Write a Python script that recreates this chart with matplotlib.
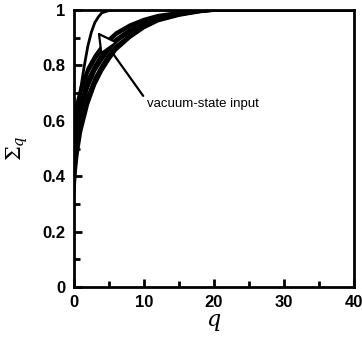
import matplotlib
matplotlib.use('Agg')
import matplotlib.pyplot as plt
import matplotlib.transforms as mtransforms
from matplotlib.ticker import MultipleLocator

plt.rcParams['font.family'] = ['Liberation Sans', 'DejaVu Sans']
plt.rcParams['mathtext.fontset'] = 'dejavuserif'

# vacuum-state input curve (steep one)
q_vac = [0, 0.25, 0.5, 1, 1.5, 2, 2.5, 3, 3.5, 4, 5, 6, 40]
s_vac = [0.45, 0.55, 0.62, 0.72, 0.80, 0.87, 0.92, 0.955, 0.975, 0.99, 0.998, 1.0, 1.0]

# bundle of other inputs
q_b = [0, 0.25, 0.5, 1, 2, 3, 4, 5, 6, 8, 10, 12, 15, 18, 20, 25, 40]
s_b = [
    [0.33, 0.42, 0.48, 0.56, 0.66, 0.73, 0.78, 0.82, 0.855, 0.90, 0.935, 0.96, 0.98, 0.993, 0.998, 1.0, 1.0],
    [0.36, 0.44, 0.50, 0.58, 0.675, 0.745, 0.79, 0.83, 0.862, 0.905, 0.938, 0.962, 0.982, 0.994, 0.999, 1.0, 1.0],
    [0.38, 0.46, 0.52, 0.60, 0.69, 0.755, 0.80, 0.84, 0.87, 0.91, 0.94, 0.965, 0.983, 0.995, 0.999, 1.0, 1.0],
    [0.43, 0.50, 0.56, 0.63, 0.72, 0.78, 0.82, 0.855, 0.885, 0.92, 0.948, 0.97, 0.986, 0.996, 0.999, 1.0, 1.0],
    [0.46, 0.53, 0.58, 0.65, 0.735, 0.79, 0.83, 0.862, 0.89, 0.925, 0.952, 0.972, 0.987, 0.996, 1.0, 1.0, 1.0],
    [0.48, 0.55, 0.60, 0.67, 0.75, 0.80, 0.84, 0.87, 0.895, 0.93, 0.955, 0.973, 0.988, 0.997, 1.0, 1.0, 1.0],
    [0.54, 0.60, 0.64, 0.70, 0.775, 0.82, 0.855, 0.885, 0.91, 0.94, 0.962, 0.978, 0.99, 0.998, 1.0, 1.0, 1.0],
    [0.60, 0.64, 0.67, 0.72, 0.79, 0.835, 0.87, 0.895, 0.918, 0.947, 0.967, 0.981, 0.992, 0.998, 1.0, 1.0, 1.0],
]

fig = plt.figure(figsize=(3.62, 3.45), dpi=100)
ax = fig.add_axes([0.204, 0.168, 0.774, 0.803])

for s in s_b:
    ax.plot(q_b, s, color='black', lw=2.0)
ax.plot(q_vac, s_vac, color='black', lw=2.0)

# arrow and label
ax.annotate('', xy=(3.4, 0.92), xytext=(9.9, 0.69),
            arrowprops=dict(arrowstyle='-|>,head_length=0.55,head_width=0.3',
                            fc='white', ec='black', lw=1.6,
                            mutation_scale=22, shrinkA=0, shrinkB=0))
ax.text(10.4, 0.66, 'vacuum-state input', fontsize=9.5, va='center', ha='left')

ax.set_xlim(0, 40)
ax.set_ylim(0, 1)
ax.xaxis.set_major_locator(MultipleLocator(10))
ax.xaxis.set_minor_locator(MultipleLocator(5))
ax.yaxis.set_major_locator(MultipleLocator(0.2))
ax.yaxis.set_minor_locator(MultipleLocator(0.1))
ax.yaxis.set_major_formatter(plt.FuncFormatter(lambda v, p: f'{v:g}'))
ax.tick_params(which='both', direction='in', top=False, right=False, width=2,
               labelsize=12)
ax.tick_params(which='major', length=6, pad=6)
ax.tick_params(which='minor', length=4)
for lab in ax.get_xticklabels() + ax.get_yticklabels():
    lab.set_fontweight('bold')
for sp in ax.spines.values():
    sp.set_linewidth(2)

# nudge the last x tick label so it stays inside the figure
fig.canvas.draw()
last = ax.get_xticklabels()[-1]
last.set_transform(last.get_transform() +
                   mtransforms.ScaledTranslation(-5 / 100, 0, fig.dpi_scale_trans))

ax.set_xlabel(r'$\mathbf{\mathit{q}}$', fontsize=16, labelpad=1)
ax.set_ylabel(r'$\mathrm{\Sigma}_q$', fontsize=15)
ax.yaxis.set_label_coords(-0.155, 0.5)

fig.savefig('out.png', dpi=100)
